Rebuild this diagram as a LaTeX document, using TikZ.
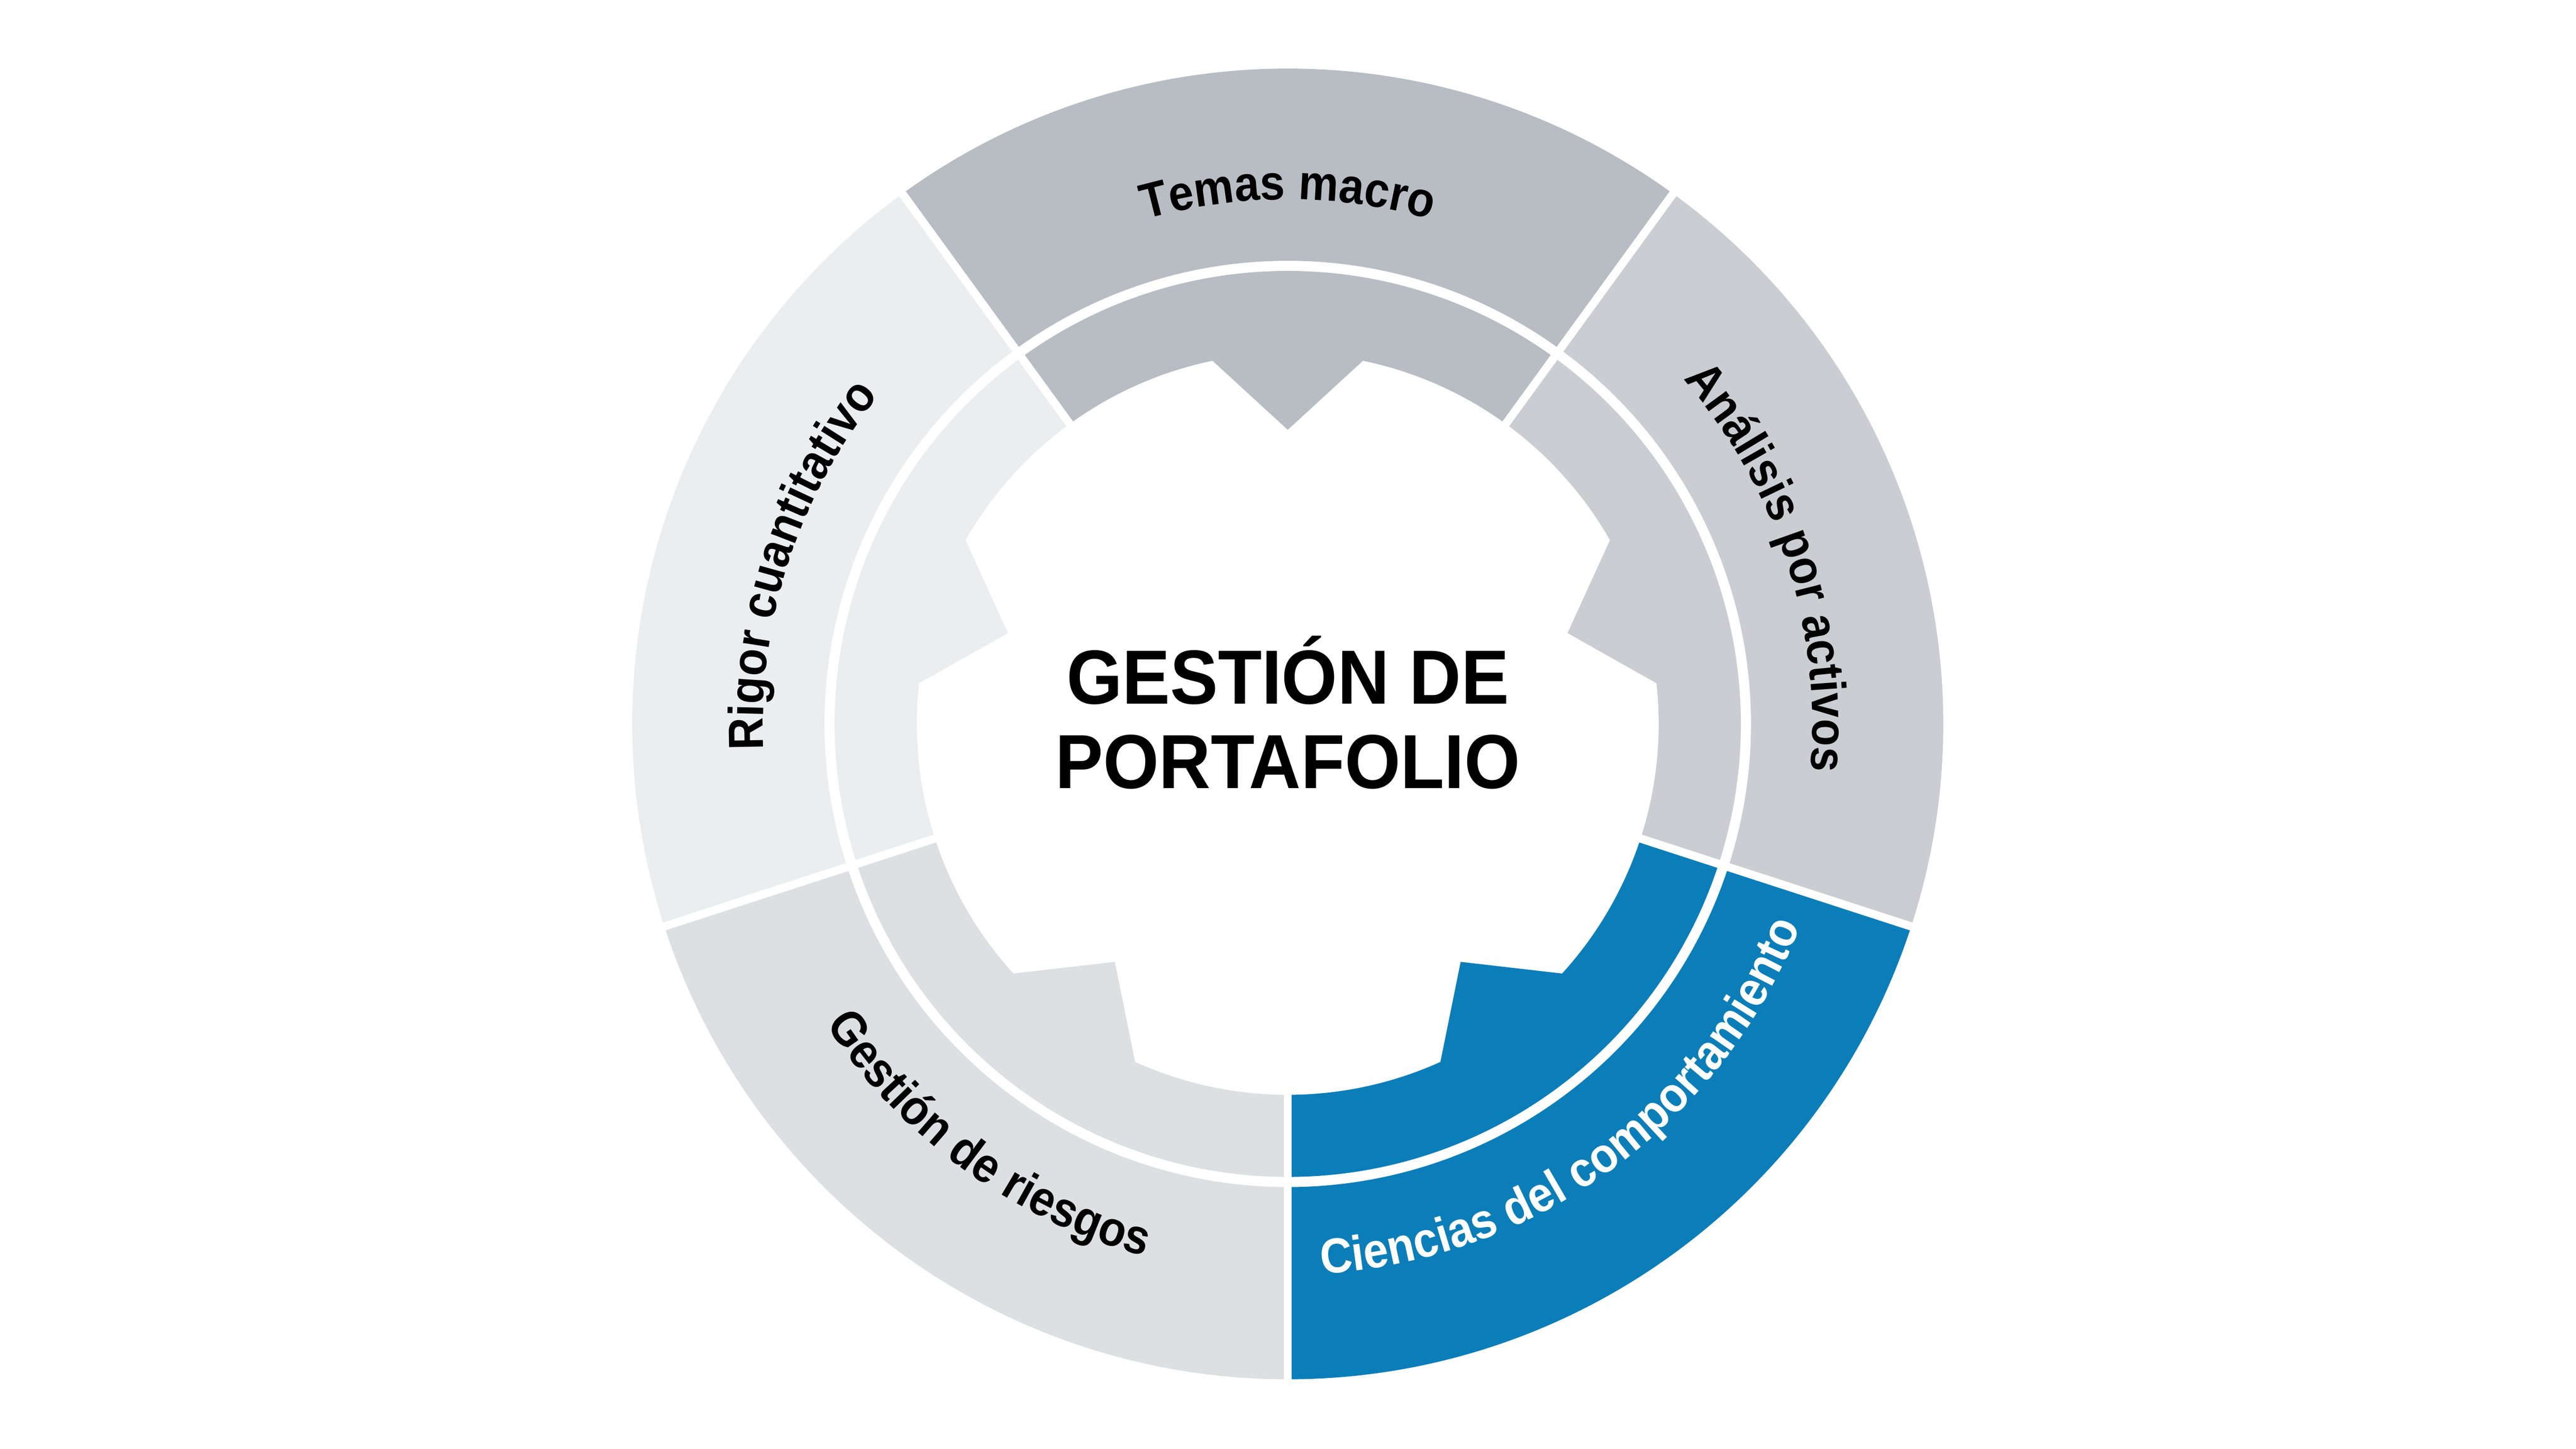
\documentclass[tikz,border=0pt]{standalone}
\usepackage{fontspec}
\setmainfont{Liberation Sans}[FakeStretch=0.935]
\newfontfamily\lblfamily{Liberation Sans}[FakeStretch=0.91]
\usetikzlibrary{decorations.text}
\definecolor{cTemas}{HTML}{B8BDC4}
\definecolor{cAnal}{HTML}{CACDD2}
\definecolor{cCien}{HTML}{0B7EB9}
\definecolor{cGest}{HTML}{DEDFE2}
\definecolor{cRigor}{HTML}{ECEDEF}
\newcommand\mysector[2]{%
  \fill[#2] (#1-36:9.59) arc[start angle=#1-36,end angle=#1+36,radius=9.59]
     -- (#1+36:13.57) arc[start angle=#1+36,end angle=#1-36,radius=13.57] -- cycle;
  \fill[#2] (#1-36:9.38) arc[start angle=#1-36,end angle=#1+36,radius=9.38]
     -- (#1+36:7.68) arc[start angle=#1+36,end angle=#1+11.7,radius=7.68]
     -- (#1:6.09) -- (#1-11.7:7.68)
     arc[start angle=#1-11.7,end angle=#1-36,radius=7.68] -- cycle;
}
\newcommand\lblfmt{\lblfamily\bfseries\fontsize{29}{34}\selectfont}
\tikzset{
  seplines/.style={white, line width=0.17cm},
  toplabel/.style={decorate, decoration={text along path, text align=center,
      text={|\lblfmt|#1}}},
  botlabel/.style={decorate, decoration={text along path, text align=center,
      text={|\lblfmt|#1}}},
  botlabelw/.style={decorate, decoration={text along path, text align=center,
      text={|\lblfmt\color{white}|#1}}},
  centertext/.style={font=\bfseries\fontsize{45.2}{54}\selectfont, anchor=base, inner sep=0pt}
}
\begin{document}
\begin{tikzpicture}
\fill[white] (-26.66,-15.01) rectangle (26.67,14.99);
\useasboundingbox (-26.66,-15.01) rectangle (26.67,14.99);
% sectors
\mysector{90}{cTemas}
\mysector{18}{cAnal}
\mysector{-54}{cCien}
\mysector{234}{cGest}
\mysector{162}{cRigor}
% separators
\foreach \a in {-90,-18,54,126,198} \draw[seplines] (\a:7.0) -- (\a:13.8);
% labels on the outer ring
\path[toplabel={Temas macro}] (126:10.86) arc[start angle=126,end angle=54,radius=10.86];
\path[toplabel={Análisis por activos}] (54:10.86) arc[start angle=54,end angle=-18,radius=10.86];
\path[toplabel={Rigor cuantitativo}] (198:10.86) arc[start angle=198,end angle=126,radius=10.86];
\path[botlabelw={Ciencias del comportamiento}] (-90:11.41) arc[start angle=-90,end angle=-18,radius=11.41];
\path[botlabel={Gestión de riesgos}] (198:11.41) arc[start angle=198,end angle=270,radius=11.41];
% centre
\node[centertext] (t1) at (0,0.42) {GESTIÓN DE};
\node[centertext] (t2) at (0,-1.33) {PORTAFOLIO};
\end{tikzpicture}
\end{document}
